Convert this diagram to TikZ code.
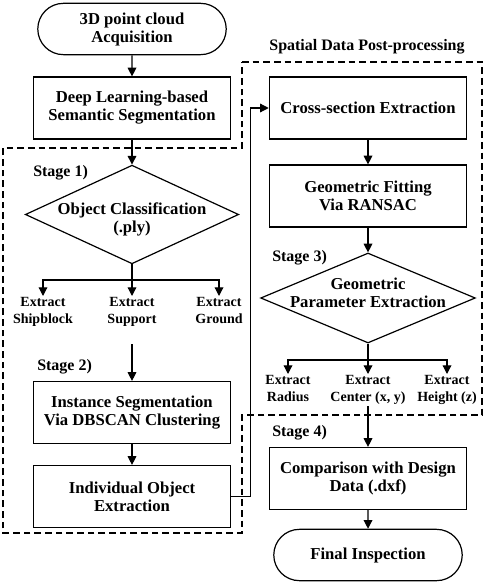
\documentclass[tikz,border=0pt]{standalone}
\usepackage{fontspec}
\setmainfont{Liberation Serif}
\usetikzlibrary{arrows.meta,shapes.geometric,shapes.misc}

\begin{document}
\begin{tikzpicture}[x=0.75pt,y=-0.75pt,
  terminal/.style={draw,line width=0.9pt,rounded rectangle,minimum width=148pt,minimum height=38.5pt,align=center,font=\fontsize{12.5}{13.5}\bfseries},
  process/.style={draw,line width=0.9pt,rectangle,minimum width=148pt,minimum height=46.5pt,align=center,font=\fontsize{12.5}{13.5}\bfseries},
  decision/.style={draw,line width=0.9pt,diamond,inner sep=0pt},
  dtext/.style={align=center,inner sep=0pt,font=\fontsize{12.5}{13.5}\bfseries},
  lbl/.style={align=center,inner sep=1pt,font=\fontsize{10.5}{12.5}\bfseries},
  stage/.style={inner sep=0pt,font=\fontsize{12}{14}\bfseries},
  arr/.style={line width=0.9pt,-{Triangle[width=6.5pt,length=6.5pt]}},
  link/.style={line width=0.9pt},
  zone/.style={line width=1.4pt,dash pattern=on 5pt off 3pt}]
\useasboundingbox (0,0) rectangle (485,585);
% dashed zones
\draw[zone] (242,62) -- (482,62) -- (482,415) -- (242,415) -- (242,533) -- (3,533) -- (3,148) -- (242,148) -- cycle;
% left column
\node[terminal] (acq) at (132,29) {3D point cloud\\Acquisition};
\node[process] (dls) at (132,108) {Deep Learning-based\\Semantic Segmentation};
\node[stage,anchor=west] (st1) at (33,173) {Stage 1)};
\node[decision,minimum width=160pt,minimum height=74pt] (cls) at (132,214.5) {};
\node[dtext] (clsText) at (132,219) {Object Classification\\(.ply)};
\coordinate (clsB) at (132,280);
\node[lbl,anchor=north] (shpLbl) at (43,296) {Extract\\Shipblock};
\node[lbl,anchor=north] (supLbl) at (132,296) {Extract\\Support};
\node[lbl,anchor=north] (grdLbl) at (219,296) {Extract\\Ground};
\node[stage,anchor=west] (st2) at (37,367) {Stage 2)};
\node[process] (ise) at (132,412.5) {Instance Segmentation\\Via DBSCAN Clustering};
\node[process] (iox) at (132,496.5) {Individual Object\\Extraction};
% right column
\node[stage] (title) at (367,47) {Spatial Data Post-processing};
\node[process] (cse) at (368,108) {Cross-section Extraction};
\node[process] (gfr) at (368,196) {Geometric Fitting\\Via RANSAC};
\node[stage,anchor=west] (st3) at (272,258) {Stage 3)};
\node[decision,minimum width=161pt,minimum height=67.5pt] (gpe) at (368,298) {};
\node[dtext] (gpeText) at (368,293) {Geometric\\Parameter Extraction};
\coordinate (gpeB) at (368,360);
\node[lbl,anchor=north] (radLbl) at (288,374) {Extract\\Radius};
\node[lbl,anchor=north] (cenLbl) at (368,374) {Extract\\Center (x, y)};
\node[lbl,anchor=north] (hgtLbl) at (447,374) {Extract\\Height (z)};
\node[stage,anchor=west] (st4) at (272,433) {Stage 4)};
\node[process] (cmp) at (368,478.5) {Comparison with Design\\Data (.dxf)};
\node[terminal] (fin) at (368,555) {Final Inspection};
% connectors
\draw[arr] (acq) -- (dls);
\draw[arr] (dls) -- (cls);
\draw[link] (cls.south) -- (clsB);
\draw[arr] (clsB) -| (shpLbl.north);
\draw[arr] (clsB) -- (supLbl.north);
\draw[arr] (clsB) -| (grdLbl.north);
\draw[arr,shorten <=12pt] (supLbl) -- (ise);
\draw[arr] (ise) -- (iox);
\draw[arr] (iox.east) -- ++(19,0) |- (cse.west);
\draw[arr] (cse) -- (gfr);
\draw[arr] (gfr) -- (gpe);
\draw[link] (gpe.south) -- (gpeB);
\draw[arr] (gpeB) -| (radLbl.north);
\draw[arr] (gpeB) -- (cenLbl.north);
\draw[arr] (gpeB) -| (hgtLbl.north);
\draw[arr] (cenLbl) -- (cmp);
\draw[arr] (cmp) -- (fin);
\end{tikzpicture}
\end{document}
